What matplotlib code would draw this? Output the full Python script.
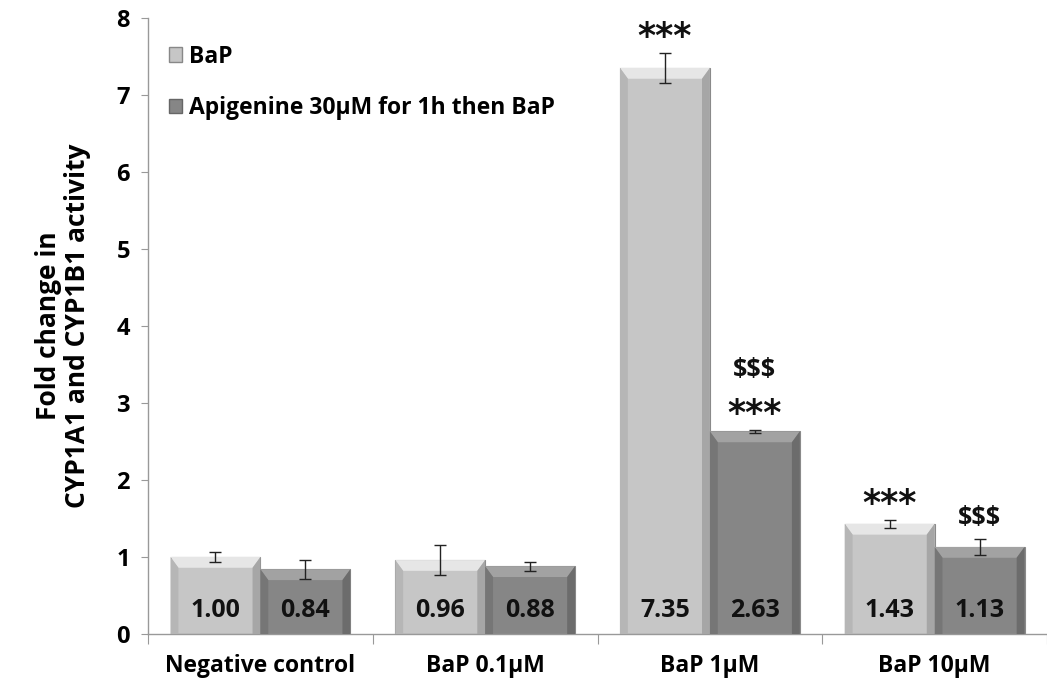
import matplotlib.pyplot as plt
from matplotlib.patches import Patch, Polygon

plt.rcParams["font.family"] = ["Open Sans", "DejaVu Sans"]

# Data
categories = ["Negative control", "BaP 0.1\u00b5M", "BaP 1\u00b5M", "BaP 10\u00b5M"]
series_names = ["BaP", "Apigenine 30\u00b5M for 1h then BaP"]
bap = [1.00, 0.96, 7.35, 1.43]
bap_err = [0.07, 0.19, 0.19, 0.05]
api = [0.84, 0.88, 2.63, 1.13]
api_err = [0.12, 0.06, 0.02, 0.10]
# significance marks, listed bottom to top
bap_marks = [[], [], ["***"], ["***"]]
api_marks = [[], [], ["***", "$$$"], ["$$$"]]

# colours: face, top bevel, left side, right side
light = ("#c6c6c6", "#e6e6e6", "#b6b6b6", "#a6a6a6")
dark = ("#868686", "#a2a2a2", "#767676", "#6c6c6c")

fig = plt.figure(figsize=(10.47, 6.88), dpi=100)
ax = fig.add_axes([0.1414, 0.0785, 0.8586, 0.8955])

width = 0.4
bw = 0.035   # bevel width (x units)
bh = 0.14    # bevel height (y units)


def bevel_bar(x, h, cols):
    face, top, left, right = cols
    x0, x1 = x - width / 2, x + width / 2
    ax.bar(x, h, width, color=face, edgecolor="#8a8a8a", linewidth=0.8, zorder=2)
    ax.add_patch(Polygon([(x0, h), (x1, h), (x1 - bw, h - bh), (x0 + bw, h - bh)],
                         closed=True, facecolor=top, edgecolor="none", zorder=3))
    ax.add_patch(Polygon([(x0, 0), (x0, h), (x0 + bw, h - bh), (x0 + bw, 0)],
                         closed=True, facecolor=left, edgecolor="none", zorder=3))
    ax.add_patch(Polygon([(x1, 0), (x1, h), (x1 - bw, h - bh), (x1 - bw, 0)],
                         closed=True, facecolor=right, edgecolor="none", zorder=3))


xs = list(range(len(categories)))
for i in xs:
    for off, vals, errs, cols, marks in [(-0.2, bap, bap_err, light, bap_marks),
                                         (0.2, api, api_err, dark, api_marks)]:
        x = i + off
        h = vals[i]
        bevel_bar(x, h, cols)
        ax.errorbar(x, h, yerr=errs[i], fmt="none", ecolor="#222222",
                    elinewidth=1, capsize=4, capthick=1, zorder=4)
        ax.text(x, 0.3, f"{h:.2f}", ha="center", va="center", fontsize=18,
                fontweight="bold", color="#111111", zorder=5)
        y = h + errs[i] + 0.12
        for m in marks[i]:
            if m == "***":
                ax.text(x, y - 0.13, m, ha="center", va="bottom", fontsize=25,
                        fontweight="bold", color="#111111", family="DejaVu Sans",
                        zorder=5)
            else:
                ax.text(x, y, m, ha="center", va="bottom", fontsize=18,
                        fontweight="bold", color="#111111", zorder=5)
            y += 0.5

ax.set_xlim(-0.5, 3.478)
ax.set_ylim(0, 8)
ax.set_yticks(range(0, 9))
ax.tick_params(axis="y", labelsize=17, length=5, color="#999999", pad=8)
for lab in ax.get_yticklabels():
    lab.set_fontweight("bold")

ax.set_xticks([b + 0.5 for b in range(-1, 4)])
ax.set_xticklabels([])
ax.tick_params(axis="x", length=7, color="#999999", direction="out")
for i, c in enumerate(categories):
    ax.text(i, -0.26, c, ha="center", va="top", fontsize=16.5, fontweight="bold")

for s in ["top", "right"]:
    ax.spines[s].set_visible(False)
for s in ["left", "bottom"]:
    ax.spines[s].set_color("#999999")
    ax.spines[s].set_linewidth(1)

ax.set_ylabel("Fold change in\nCYP1A1 and CYP1B1 activity", fontsize=19,
              fontweight="bold", labelpad=18, linespacing=1.1)

handles = [Patch(facecolor=light[0], edgecolor="#888888"),
           Patch(facecolor=dark[0], edgecolor="#666666")]
ax.legend(handles, series_names, loc="upper left", bbox_to_anchor=(0.0, 0.99),
          frameon=False, prop={"weight": "bold", "size": 16.5},
          handlelength=0.6, handleheight=0.6, handletextpad=0.3, labelspacing=1.2)

fig.savefig("out.png", dpi=100)
